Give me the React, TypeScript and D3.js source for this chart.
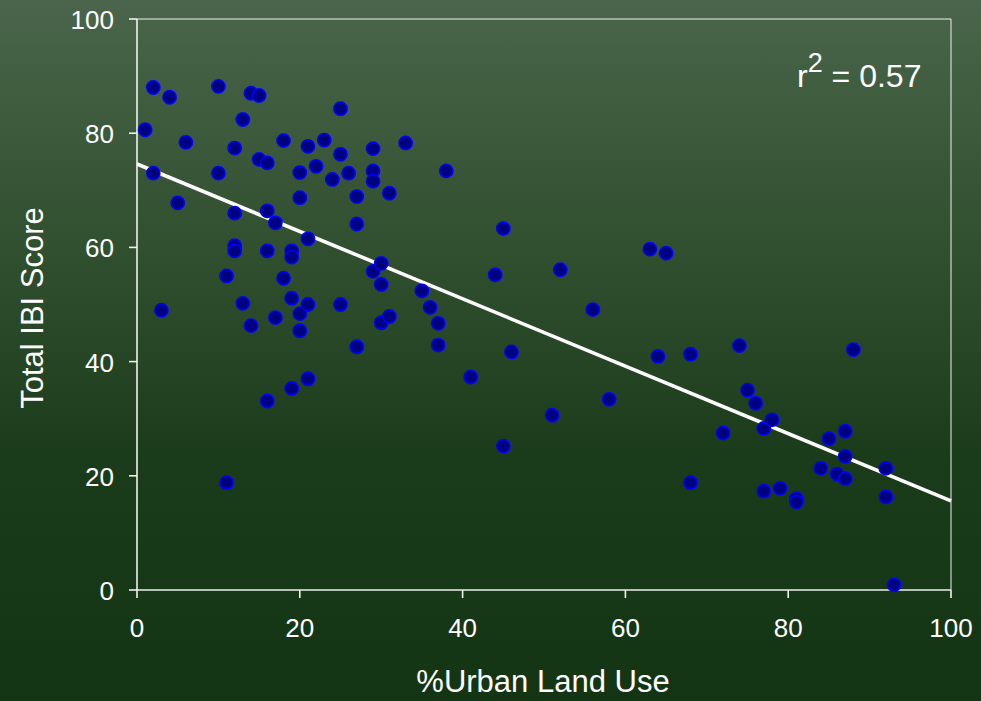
import React, { useEffect, useRef } from "react";
import * as d3 from "d3";

const urbanPct = [1,2,2,3,4,5,6,10,10,11,11,12,12,12,12,13,13,14,14,15,15,16,16,16,16,17,17,18,18,19,19,19,19,20,20,20,20,21,21,21,21,22,23,24,25,25,25,26,27,27,27,29,29,29,29,30,30,30,31,31,33,35,36,37,37,38,41,44,45,45,46,51,52,56,58,63,64,65,68,68,72,74,75,76,77,77,78,79,81,81,84,85,86,87,87,87,88,92,92,93];
const ibiScore = [80.6,88.0,73.0,49.0,86.3,67.8,78.4,88.2,73.0,55.0,18.8,77.4,66.0,60.3,59.4,82.4,50.2,87.0,46.3,86.6,75.4,74.8,66.4,59.4,33.1,64.3,47.7,78.7,54.6,59.4,58.3,51.1,35.3,73.1,68.7,48.4,45.4,77.7,61.5,50.0,37.0,74.2,78.8,71.9,84.3,76.3,50.0,73.0,68.9,64.1,42.6,77.3,73.4,71.6,55.8,57.2,53.5,46.8,69.5,47.9,78.3,52.4,49.5,46.7,42.9,73.4,37.3,55.2,63.3,25.2,41.7,30.6,56.1,49.1,33.4,59.7,40.9,59.0,41.3,18.8,27.5,42.8,35.0,32.7,28.3,17.3,29.8,17.8,16.0,15.4,21.3,26.5,20.3,27.8,23.4,19.5,42.1,21.3,16.3,0.9];
const xTicks = [0, 20, 40, 60, 80, 100];
const yTicks = [0, 20, 40, 60, 80, 100];
const fitIntercept = 74.6;
const fitSlope = -0.59;
const fitX = [0, 100];

const W = 981, H = 701;
const FONT = "'Liberation Sans', Arial, sans-serif";

export default function App() {
  const ref = useRef<SVGSVGElement>(null);
  useEffect(() => {
    document.body.style.margin = "0";
    const svg = d3.select(ref.current);
    svg.selectAll("*").remove();
    const defs = svg.append("defs");
    const g = defs.append("linearGradient").attr("id", "bg").attr("x1", 0).attr("y1", 0).attr("x2", 0).attr("y2", 1);
    [["0", "#4a654b"], ["0.35", "#31502f"], ["0.65", "#1b3c1b"], ["1", "#143514"]].forEach(([o, c]) =>
      g.append("stop").attr("offset", o).attr("stop-color", c));
    svg.append("rect").attr("width", W).attr("height", H).attr("fill", "url(#bg)");

    const x = d3.scaleLinear().domain([0, 100]).range([137, 951]);
    const y = d3.scaleLinear().domain([0, 100]).range([590, 19]);

    // plot border (top & right)
    svg.append("path").attr("d", `M${x(0)},${y(100)}H${x(100)}V${y(0)}`)
      .attr("fill", "none").attr("stroke", "#f0f0f0").attr("stroke-width", 1);

    // axes
    const ax = svg.append("g").attr("stroke", "#f0f0f0").attr("stroke-width", 1.6);
    ax.append("line").attr("x1", x(0)).attr("x2", x(0)).attr("y1", y(0)).attr("y2", y(100));
    ax.append("line").attr("x1", x(0)).attr("x2", x(100)).attr("y1", y(0)).attr("y2", y(0));
    yTicks.forEach(t => ax.append("line").attr("x1", x(0) - 8).attr("x2", x(0)).attr("y1", y(t)).attr("y2", y(t)));
    xTicks.forEach(t => ax.append("line").attr("x1", x(t)).attr("x2", x(t)).attr("y1", y(0)).attr("y2", y(0) + 8));

    const txt = svg.append("g").attr("fill", "#ffffff").attr("font-family", FONT);
    yTicks.forEach(t => txt.append("text").attr("x", 114).attr("y", y(t) + 10)
      .attr("text-anchor", "end").attr("font-size", 26).text(String(t)));
    xTicks.forEach(t => txt.append("text").attr("x", x(t)).attr("y", 637)
      .attr("text-anchor", "middle").attr("font-size", 26).text(String(t)));
    txt.append("text").attr("x", 543).attr("y", 692).attr("text-anchor", "middle")
      .attr("font-size", 31).text("%Urban Land Use");
    txt.append("text").attr("transform", "translate(43,308) rotate(-90)").attr("text-anchor", "middle")
      .attr("font-size", 31).text("Total IBI Score");
    const r2 = txt.append("text").attr("x", 797).attr("y", 87).attr("font-size", 32);
    r2.append("tspan").text("r");
    r2.append("tspan").attr("dy", -15).attr("font-size", 27).text("2");
    r2.append("tspan").attr("dy", 15).text(" = 0.57");

    // regression line
    const line = d3.line<number>().x(d => x(d)).y(d => y(fitIntercept + fitSlope * d));
    svg.append("path").attr("d", line(fitX)).attr("fill", "none")
      .attr("stroke", "#ffffff").attr("stroke-width", 3.6);

    // points
    svg.append("g").selectAll("circle").data(urbanPct.map((u, i) => [u, ibiScore[i]]))
      .join("circle").attr("cx", d => x(d[0])).attr("cy", d => y(d[1])).attr("r", 6.6)
      .attr("fill", "#000080").attr("stroke", "#0000ff").attr("stroke-width", 1.6);
  }, []);
  return <svg ref={ref} width={W} height={H} style={{ display: "block" }} />;
}
